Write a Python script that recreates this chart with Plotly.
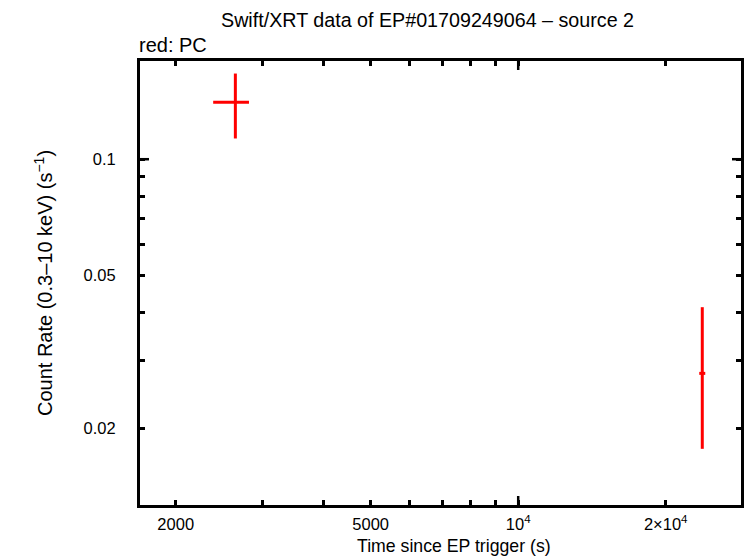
import plotly.graph_objects as go
import numpy as np

# data (PC mode)
time_s = [2647, 23750]
time_err_minus = [262, 335]
time_err_plus = [175, 335]
rate = [0.1405, 0.02779]
rate_err_plus = [0.0264, 0.01349]
rate_err_minus = [0.0273, 0.01009]

x_labeled = [2000, 5000, 10000, 20000]
x_labels = ["2000", "5000", "10<sup>4</sup>", "2×10<sup>4</sup>"]
x_minor = [3000, 4000, 6000, 7000, 8000, 9000]
x_long = [10000]
y_labeled = [0.02, 0.05, 0.1]
y_labels = ["0.02", "0.05", "0.1"]
y_minor = [0.03, 0.04, 0.06, 0.07, 0.08, 0.09]
y_long = [0.1]

xr = [np.log10(1691), np.log10(28490)]
yr = [np.log10(0.01265), np.log10(0.1799)]

FONT = "Liberation Sans"
TICKLEN = 5
LONGLEN = 9
TW = 2.5

fig = go.Figure()
fig.add_trace(go.Scatter(
    x=time_s, y=rate, mode="markers",
    marker=dict(size=1, color="red"),
    error_x=dict(type="data", symmetric=False, array=time_err_plus, arrayminus=time_err_minus,
                 color="red", thickness=3, width=0),
    error_y=dict(type="data", symmetric=False, array=rate_err_plus, arrayminus=rate_err_minus,
                 color="red", thickness=3, width=0),
    showlegend=False, hoverinfo="skip",
))

common = dict(showline=True, linecolor="black", linewidth=3, mirror="ticks",
              ticks="inside", tickcolor="black", tickwidth=TW, ticklen=TICKLEN,
              showgrid=False, zeroline=False)

fig.update_xaxes(type="log", range=xr, tickmode="array", tickvals=x_labeled, ticktext=x_labels,
                 minor=dict(tickmode="array", tickvals=x_minor, ticks="inside", ticklen=TICKLEN,
                            tickwidth=TW, tickcolor="black", showgrid=False),
                 tickfont=dict(family=FONT, size=16.5, color="black"),
                 ticklabelstandoff=2,
                 **common)
fig.update_yaxes(type="log", range=yr, tickmode="array", tickvals=y_labeled, ticktext=y_labels,
                 minor=dict(tickmode="array", tickvals=y_minor, ticks="inside", ticklen=TICKLEN,
                            tickwidth=TW, tickcolor="black", showgrid=False),
                 tickfont=dict(family=FONT, size=16.5, color="black"),
                 title=dict(text="Count Rate (0.3–10 keV) (s<sup>−1</sup>)",
                            font=dict(family=FONT, size=20, color="black"), standoff=26),
                 ticklabelstandoff=18,
                 **common)

# longer ticks at the major decades (bottom/top and left/right)
shapes = []
for xv in x_long:
    shapes.append(dict(type="line", xref="x", yref="paper", ysizemode="pixel", yanchor=0,
                       x0=xv, x1=xv, y0=0, y1=LONGLEN, line=dict(color="black", width=TW)))
    shapes.append(dict(type="line", xref="x", yref="paper", ysizemode="pixel", yanchor=1,
                       x0=xv, x1=xv, y0=0, y1=-LONGLEN, line=dict(color="black", width=TW)))
for yv in y_long:
    shapes.append(dict(type="line", yref="y", xref="paper", xsizemode="pixel", xanchor=0,
                       y0=yv, y1=yv, x0=0, x1=LONGLEN, line=dict(color="black", width=TW)))
    shapes.append(dict(type="line", yref="y", xref="paper", xsizemode="pixel", xanchor=1,
                       y0=yv, y1=yv, x0=0, x1=-LONGLEN, line=dict(color="black", width=TW)))

W, H = 746, 558
ML, MR, MT, MB = 140, 5, 61, 53
pw = W - ML - MR

def page_x_to_paper(px):
    return (px - ML) / pw

fig.update_layout(
    width=W, height=H,
    margin=dict(l=ML, r=MR, t=MT, b=MB, autoexpand=False),
    paper_bgcolor="white", plot_bgcolor="white",
    shapes=shapes,
    title=dict(text="Swift/XRT data of EP#01709249064 – source 2", xref="paper",
               x=page_x_to_paper(427.5), xanchor="center",
               y=1 - 20 / H, yanchor="middle", font=dict(family=FONT, size=19.7, color="black")),
    annotations=[
        dict(text="red: PC", xref="paper", yref="paper", x=page_x_to_paper(137), xanchor="left",
             y=1, yanchor="bottom", yshift=3, showarrow=False,
             font=dict(family=FONT, size=20, color="black")),
        dict(text="Time since EP trigger (s)", xref="paper", yref="paper",
             x=page_x_to_paper(453.5), xanchor="center", y=0, yanchor="middle", yshift=-41,
             showarrow=False, font=dict(family=FONT, size=17.7, color="black")),
    ],
)

fig.write_html("out.html", config={"displayModeBar": False},
               post_script="document.body.style.margin='0';document.body.style.overflow='hidden';")
